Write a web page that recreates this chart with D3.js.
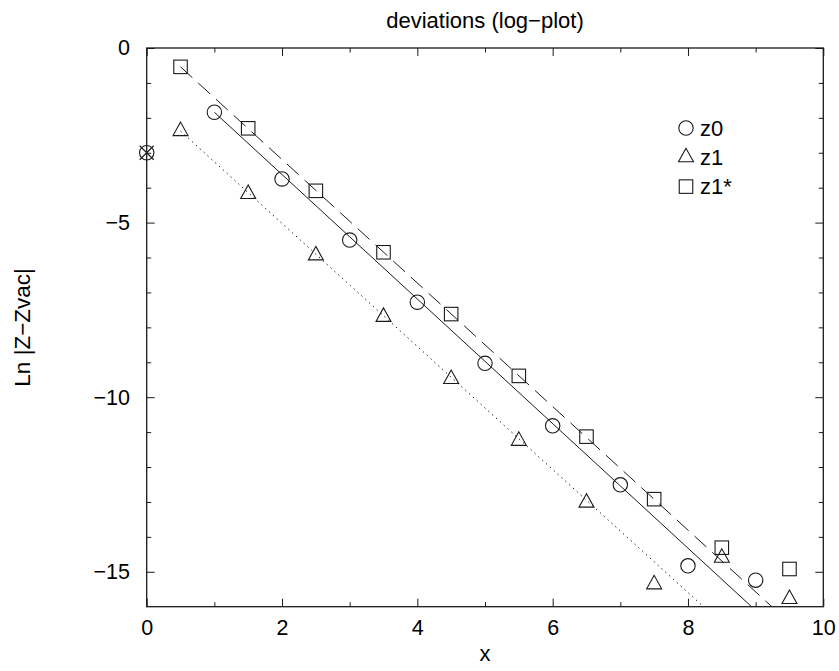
<!DOCTYPE html>
<html>
<head>
<meta charset="utf-8">
<script src="https://cdn.jsdelivr.net/npm/d3@7"></script>
<style>
  body { margin: 0; background: #fff; }
  svg { display: block; font-family: "Liberation Sans", Arial, sans-serif; }
</style>
</head>
<body>
<script>
// data
const xWhole = [1, 2, 3, 4, 5, 6, 7, 8, 9];
const xHalf = [0.5, 1.5, 2.5, 3.5, 4.5, 5.5, 6.5, 7.5, 8.5, 9.5];
const z0 = [-1.84, -3.75, -5.50, -7.28, -9.03, -10.82, -12.51, -14.83, -15.24];
const z1 = [-2.38, -4.18, -5.94, -7.70, -9.48, -11.25, -13.02, -15.36, -14.60, -15.78];
const z1star = [-0.54, -2.30, -4.09, -5.85, -7.62, -9.39, -11.13, -12.92, -14.31, -14.92];
const vacPoint = [0, -3];

// straight fit lines, start and end point
const fitZ0 = [[1, -1.84], [8.94, -16]];
const fitZ1 = [[0.5, -2.38], [8.23, -16]];
const fitZ1star = [[0.5, -0.54], [9.24, -16]];

const xMajor = [0, 2, 4, 6, 8, 10];
const xMinor = [1, 3, 5, 7, 9];
const yMajor = [0, -5, -10, -15];
const yMinor = [-1, -2, -3, -4, -6, -7, -8, -9, -11, -12, -13, -14];

const legendLabels = ["z0", "z1", "z1*"];

const w = 839, h = 671;
const pb = { left: 146.7, right: 823.3, top: 48, bottom: 606.7 };

const svg = d3.select("body").append("svg")
    .attr("width", w)
    .attr("height", h);

const x = d3.scaleLinear().domain([0, 10]).range([pb.left, pb.right]);
const y = d3.scaleLinear().domain([0, -16]).range([pb.top, pb.bottom]);

const ink = "#1a1a1a";

// Title
svg.append("text")
    .attr("x", 485).attr("y", 28)
    .attr("text-anchor", "middle")
    .style("font-size", "22px")
    .text("deviations (log\u2212plot)");

// Axes with ticks pointing inward
function addAxis(axis, tx, ty, labels) {
    const g = svg.append("g")
        .attr("transform", `translate(${tx},${ty})`)
        .call(axis);
    g.select(".domain").remove();
    g.selectAll(".tick line").attr("stroke", ink);
    g.selectAll("text")
        .style("font-size", "21.5px")
        .style("font-family", "'Liberation Sans', Arial, sans-serif")
        .attr("fill", "#000");
    if (!labels) g.selectAll("text").remove();
    return g;
}

addAxis(d3.axisBottom(x).tickValues(xMajor).tickSizeInner(-8).tickSizeOuter(0).tickPadding(13), 0, pb.bottom, true);
addAxis(d3.axisBottom(x).tickValues(xMinor).tickSizeInner(-4.5).tickSizeOuter(0), 0, pb.bottom, false);
addAxis(d3.axisTop(x).tickValues(xMajor).tickSizeInner(-8).tickSizeOuter(0), 0, pb.top, false);
addAxis(d3.axisTop(x).tickValues(xMinor).tickSizeInner(-4.5).tickSizeOuter(0), 0, pb.top, false);
addAxis(d3.axisLeft(y).tickValues(yMajor).tickSizeInner(-8).tickSizeOuter(0).tickPadding(16.7), pb.left, 0, true);
addAxis(d3.axisLeft(y).tickValues(yMinor).tickSizeInner(-4.5).tickSizeOuter(0), pb.left, 0, false);
addAxis(d3.axisRight(y).tickValues(yMajor).tickSizeInner(-8).tickSizeOuter(0), pb.right, 0, false);
addAxis(d3.axisRight(y).tickValues(yMinor).tickSizeInner(-4.5).tickSizeOuter(0), pb.right, 0, false);

// Frame
svg.append("rect")
    .attr("x", pb.left).attr("y", pb.top)
    .attr("width", pb.right - pb.left).attr("height", pb.bottom - pb.top)
    .attr("fill", "none")
    .attr("stroke", ink)
    .attr("stroke-width", 1.3);

// Axis labels
svg.append("text")
    .attr("x", 485).attr("y", 661)
    .attr("text-anchor", "middle")
    .style("font-size", "22px")
    .text("x");

svg.append("text")
    .attr("transform", `translate(30,${(pb.top + pb.bottom) / 2}) rotate(-90)`)
    .attr("text-anchor", "middle")
    .style("font-size", "22.5px")
    .text("Ln |Z\u2212Zvac|");

// Fit lines
const line = d3.line().x(d => x(d[0])).y(d => y(d[1]));
const plot = svg.append("g");

plot.append("path").datum(fitZ0)
    .attr("d", line).attr("fill", "none")
    .attr("stroke", ink).attr("stroke-width", 1);
plot.append("path").datum(fitZ1)
    .attr("d", line).attr("fill", "none")
    .attr("stroke", ink).attr("stroke-width", 1)
    .attr("stroke-dasharray", "1.4,3.8");
plot.append("path").datum(fitZ1star)
    .attr("d", line).attr("fill", "none")
    .attr("stroke", ink).attr("stroke-width", 1)
    .attr("stroke-dasharray", "16,8");

// Marker shapes
const circleR = 7.2;
const sq = 13.5;
const triW = 15, triH = 13.5;

function drawCircle(g, cx, cy) {
    g.append("circle")
        .attr("cx", cx).attr("cy", cy).attr("r", circleR)
        .attr("fill", "none").attr("stroke", ink).attr("stroke-width", 1.1);
}
function drawSquare(g, cx, cy) {
    g.append("rect")
        .attr("x", cx - sq / 2).attr("y", cy - sq / 2)
        .attr("width", sq).attr("height", sq)
        .attr("fill", "none").attr("stroke", ink).attr("stroke-width", 1.1);
}
function drawTriangle(g, cx, cy) {
    const pts = [[cx, cy - triH * 2 / 3], [cx - triW / 2, cy + triH / 3], [cx + triW / 2, cy + triH / 3]];
    g.append("path")
        .attr("d", "M" + pts.join("L") + "Z")
        .attr("fill", "none").attr("stroke", ink).attr("stroke-width", 1.1);
}

xWhole.forEach((v, i) => drawCircle(plot, x(v), y(z0[i])));
xHalf.forEach((v, i) => drawTriangle(plot, x(v), y(z1[i])));
xHalf.forEach((v, i) => drawSquare(plot, x(v), y(z1star[i])));

// crossed circle at x = 0
const vx = x(vacPoint[0]), vy = y(vacPoint[1]);
drawCircle(plot, vx, vy);
plot.append("path")
    .attr("d", `M${vx - 7},${vy - 7}L${vx + 7},${vy + 7}M${vx - 7},${vy + 7}L${vx + 7},${vy - 7}`)
    .attr("stroke", ink).attr("stroke-width", 1.1);

// Legend
const legend = svg.append("g").attr("transform", "translate(686,128)");
const markers = [drawCircle, drawTriangle, drawSquare];
legendLabels.forEach((lab, i) => {
    const ry = i * 29.3;
    markers[i](legend, 0, ry);
    legend.append("text")
        .attr("x", 14).attr("y", ry + 7.5)
        .style("font-size", "22px")
        .text(lab);
});
</script>
</body>
</html>
